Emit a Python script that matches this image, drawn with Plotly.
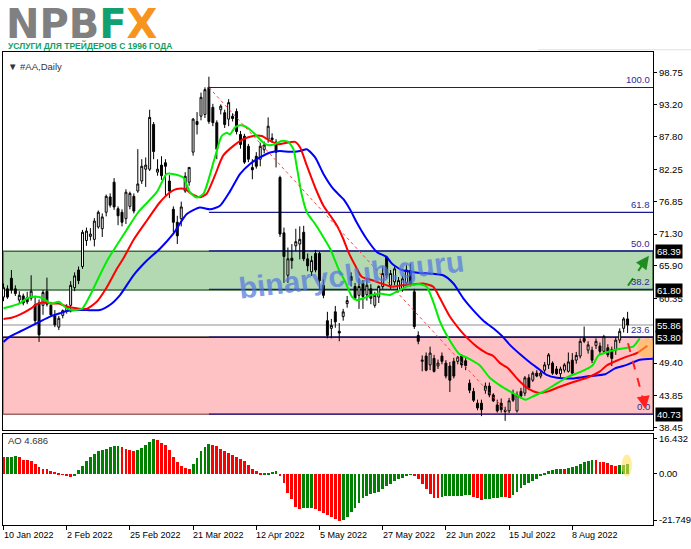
import plotly.graph_objects as go
import pandas as pd

W, H = 691, 549

# ---------------- data ----------------
holidays = ['2022-01-17', '2022-02-21', '2022-04-15', '2022-05-30', '2022-06-20', '2022-07-04']
dates = pd.bdate_range('2022-01-10', '2022-08-26', freq='C', holidays=holidays)

opens = [60.6, 62.0, 63.8, 62.0, 60.1, 60.8, 60.5, 60.4, 59.3, 59.6,
         59.2, 61.6, 59.2, 57.4, 55.5, 57.5, 58.3, 59.2, 62.2, 65.2,
         65.8, 70.2, 70.9, 70.4, 72.5, 72.2, 75.0, 77.6, 80.1, 75.6,
         75.0, 73.9, 76.0, 77.7, 78.6, 80.3, 82.3, 82.3, 89.9, 81.8,
         83.0, 83.4, 80.3, 75.5, 73.3, 73.9, 78.6, 80.1, 85.2, 90.4,
         91.3, 91.6, 96.2, 92.8, 90.2, 92.4, 91.9, 90.8, 91.3, 92.1,
         88.2, 87.9, 86.2, 82.6, 84.5, 84.0, 85.6, 87.4, 87.6, 86.9,
         80.9, 71.5, 64.3, 67.2, 69.3, 69.6, 71.6, 67.1, 64.9, 68.0,
         68.0, 62.6, 56.6, 55.3, 58.1, 54.8, 57.3, 59.5, 64.1, 62.4,
         60.9, 62.9, 61.0, 62.0, 59.2, 60.6, 62.4, 67.4, 62.6, 63.2,
         61.7, 62.0, 63.0, 65.1, 61.5, 54.1, 49.7, 50.6, 49.1, 50.2,
         48.9, 50.6, 49.4, 48.9, 49.7, 49.7, 50.6, 49.8, 46.0, 44.6,
         42.6, 42.6, 44.8, 45.5, 44.0, 42.3, 42.6, 41.4, 41.3, 44.3,
         41.3, 44.6, 44.3, 46.9, 46.5, 47.7, 47.2, 48.2, 49.1, 49.4,
         48.4, 47.6, 48.2, 48.0, 49.9, 49.9, 50.6, 53.6, 51.6, 51.6,
         52.4, 52.3, 51.4, 52.0, 51.7, 51.6, 53.3, 55.3, 56.9]
highs = [62.9, 62.6, 65.2, 62.6, 61.6, 61.2, 61.5, 64.3, 60.8, 60.2,
         61.8, 63.9, 59.8, 58.4, 57.4, 58.5, 59.4, 63.3, 64.8, 65.8,
         72.0, 72.4, 72.3, 74.0, 75.3, 74.8, 78.0, 78.2, 80.8, 76.0,
         75.5, 78.9, 78.5, 78.2, 85.7, 84.0, 84.3, 92.4, 90.3, 84.0,
         84.5, 84.0, 81.3, 76.0, 74.4, 76.8, 81.8, 82.6, 91.0, 92.0,
         95.3, 96.2, 98.0, 93.4, 90.6, 93.3, 92.4, 94.2, 91.8, 92.6,
         88.8, 88.3, 86.6, 84.0, 85.2, 86.8, 87.0, 91.1, 88.4, 87.4,
         81.2, 72.4, 69.0, 69.6, 72.2, 72.6, 72.7, 68.0, 67.6, 68.6,
         68.3, 63.6, 58.1, 56.9, 59.1, 56.2, 58.6, 60.8, 64.8, 63.0,
         63.8, 63.5, 63.8, 62.8, 61.5, 62.6, 65.8, 67.6, 65.2, 65.8,
         64.0, 64.2, 66.0, 66.3, 62.0, 54.8, 50.7, 51.2, 52.2, 50.8,
         50.0, 51.2, 49.9, 49.6, 50.3, 50.6, 50.9, 50.4, 46.6, 45.2,
         43.2, 43.2, 46.1, 46.1, 44.3, 43.2, 43.4, 42.0, 43.5, 44.9,
         44.6, 45.2, 47.2, 47.5, 48.0, 48.2, 48.2, 49.6, 51.1, 49.7,
         48.9, 48.8, 49.4, 51.2, 51.1, 51.3, 53.6, 55.6, 53.1, 52.2,
         53.6, 52.9, 54.2, 52.6, 52.2, 53.8, 55.3, 57.2, 58.1]
lows = [59.9, 60.3, 61.2, 60.8, 59.5, 59.2, 59.4, 60.0, 56.0, 53.0,
        57.6, 59.0, 57.3, 55.5, 55.0, 57.0, 57.8, 58.0, 61.6, 62.8,
        65.4, 69.3, 70.2, 69.2, 72.2, 70.8, 74.3, 75.8, 75.4, 72.8,
        72.6, 73.0, 75.5, 74.8, 78.3, 79.8, 79.3, 82.0, 84.0, 81.2,
        80.5, 77.7, 77.4, 71.6, 69.6, 72.6, 78.3, 79.5, 84.6, 88.2,
        90.6, 91.0, 90.0, 89.6, 84.0, 91.6, 89.3, 89.6, 90.4, 88.2,
        85.8, 83.2, 83.5, 80.6, 82.4, 82.8, 85.0, 86.8, 86.8, 82.6,
        70.8, 63.0, 63.0, 65.4, 68.4, 67.0, 66.7, 65.0, 64.2, 64.8,
        62.0, 60.4, 53.6, 53.6, 55.4, 53.1, 56.6, 58.8, 62.4, 60.2,
        58.6, 58.6, 60.0, 59.4, 58.8, 59.6, 62.0, 63.8, 62.0, 62.6,
        61.4, 61.5, 62.4, 62.4, 55.2, 52.6, 48.0, 48.0, 48.2, 47.8,
        48.4, 49.2, 46.8, 44.5, 46.8, 49.2, 48.6, 48.2, 44.3, 42.8,
        41.4, 40.4, 44.2, 43.6, 42.8, 41.0, 41.0, 39.6, 40.9, 42.8,
        41.0, 43.4, 43.8, 44.8, 46.2, 47.0, 46.8, 47.6, 48.4, 47.4,
        47.4, 47.0, 47.8, 47.8, 47.4, 49.3, 50.2, 52.8, 51.0, 49.4,
        51.8, 50.8, 51.0, 50.4, 48.9, 50.8, 52.8, 54.6, 54.5]
closes = [62.2, 60.6, 61.8, 61.2, 60.9, 59.6, 59.8, 61.6, 56.6, 54.2,
          61.4, 59.4, 57.6, 55.9, 57.0, 58.3, 59.0, 62.6, 64.2, 63.4,
          71.6, 71.8, 71.3, 73.5, 75.0, 74.2, 77.7, 76.2, 75.9, 74.4,
          73.3, 78.4, 78.2, 75.2, 79.8, 82.8, 83.0, 91.1, 85.3, 82.3,
          81.2, 82.8, 78.6, 73.3, 71.0, 75.9, 81.1, 82.6, 90.8, 89.9,
          94.5, 95.8, 90.4, 90.2, 85.7, 93.0, 89.9, 93.6, 90.9, 88.7,
          86.5, 83.5, 84.0, 82.2, 82.8, 86.2, 86.4, 89.6, 87.3, 85.2,
          71.3, 67.5, 67.1, 66.8, 70.0, 70.4, 67.1, 65.9, 66.8, 65.2,
          63.4, 60.9, 54.1, 55.8, 56.4, 54.5, 58.1, 60.0, 63.4, 60.4,
          62.4, 60.7, 62.6, 60.4, 60.9, 62.4, 64.6, 64.3, 64.6, 65.4,
          63.4, 63.7, 65.2, 62.9, 55.6, 53.1, 49.9, 48.2, 51.1, 48.0,
          49.4, 49.7, 47.2, 46.5, 47.2, 50.4, 49.1, 49.0, 44.8, 43.1,
          41.8, 41.5, 45.5, 44.0, 43.0, 41.3, 41.5, 41.2, 43.0, 43.1,
          44.0, 43.8, 46.9, 45.2, 47.7, 47.2, 47.7, 49.1, 50.8, 47.7,
          47.6, 48.4, 49.1, 49.6, 47.7, 50.7, 53.1, 53.1, 52.5, 49.9,
          53.1, 51.4, 53.9, 50.8, 50.2, 53.3, 54.8, 56.9, 55.86]

lips_x = [0, 4, 6, 8, 10, 12, 14, 16, 18, 20, 22, 24, 26.5, 30.8, 34.1, 38.8, 41.3, 42.8, 45.5, 47.2,
          48.9, 50.6, 53.3, 55.2, 56.5, 57.3, 58.6, 59.9, 61.1, 62.8, 64.1, 65.8, 67, 68.7, 70.4, 72.1,
          73.4, 74.2, 75.5, 76.8, 78.9, 80.5, 82.7, 84.8, 86.5, 88.2, 89.4, 91.1, 93.2, 95.3, 97.8, 99.5,
          102.5, 105.4, 107.1, 108.8, 110.5, 112.4, 115.3, 117.5, 120.6, 123, 125.3, 128.2, 130.1, 132.2,
          134.5, 136.5, 139.5, 143, 146.4, 149.1, 150.6, 152.7, 155.2, 157.8, 159.4, 161.1]
lips_y = [58.7, 59.5, 60.4, 60.7, 60.4, 59.5, 59.8, 58.7, 58.4, 58.7, 61.0, 63.8, 67.1, 71.6, 75.0, 78.4,
          81.5, 81.5, 80.9, 78.4, 77.5, 78.1, 83.8, 87.9, 88.5, 88.2, 89.4, 89.75, 89.6, 88.8, 87.95, 86.8,
          86.4, 86.55, 87.1, 86.95, 85.7, 82.9, 78.0, 75.0, 73.0, 71.3, 68.8, 65.4, 63.2, 60.7, 60.1, 60.4,
          60.95, 61.2, 60.95, 61.5, 62.5, 62.8, 62.4, 59.8, 56.45, 53.9, 51.0, 50.25, 49.0, 47.0, 45.8,
          44.6, 43.9, 43.2, 43.9, 44.5, 45.7, 47.1, 48.0, 49.0, 50.7, 51.25, 51.7, 52.0, 52.2, 53.6]
teeth_x = [0, 2, 4, 7, 8.4, 10, 12, 14, 16, 18.5, 21, 23.6, 26, 28.7, 30.3, 32.9, 36.3, 39.6, 42.2, 43.8,
           46, 47.6, 49.7, 51.4, 53.5, 55.6, 58.2, 60.7, 63.2, 65.4, 67.5, 69.6, 71.7, 73.8, 75.1, 76.8,
           78.9, 81, 82.7, 84.4, 86, 87.3, 89, 90.7, 93.2, 95.7, 98.3, 100.8, 103.3, 106.3, 108.8, 110.5,
           113, 115.6, 117.5, 119.8, 122.3, 124, 125.7, 127.6, 130.4, 132.8, 135.4, 137.9, 140.5, 144.3,
           148, 151, 152.7, 155.2, 158, 160.3, 163]
teeth_y = [56.9, 57.1, 57.6, 58.7, 59.4, 59.7, 59.5, 59.5, 59.0, 58.7, 58.6, 59.8, 62.1, 65.4, 67.1, 70.3,
           73.6, 76.7, 78.4, 78.95, 78.95, 78.1, 77.55, 78.1, 81.2, 84.6, 86.26, 87.4, 87.95, 87.95, 87.1,
           86.55, 86.8, 86.94, 86.0, 82.9, 79.2, 76.1, 74.45, 72.75, 70.5, 68.27, 66.0, 64.05, 63.5, 62.9,
           62.36, 62.6, 62.75, 62.9, 62.36, 60.4, 57.3, 55.0, 53.6, 52.2, 51.1, 50.6, 49.4, 48.6, 46.5,
           45.1, 44.35, 44.6, 45.3, 46.2, 47.0, 48.0, 49.0, 49.8, 50.55, 51.1, 52.35]
jaw_x = [0, 1.6, 4.2, 6.7, 9.2, 11.8, 14.3, 16, 18.5, 21, 24.4, 27, 29.5, 32.9, 36.3, 39.6, 43, 46.4, 49.7,
         52.3, 54.8, 57.3, 59.9, 62.4, 64.9, 67.5, 70, 72.5, 75.1, 76.8, 78.9, 81, 83.5, 86, 87.7, 89.4,
         91.9, 94.5, 97, 98.3, 100.8, 103.3, 105.4, 111.3, 113.9, 116.4, 118.9, 121.5, 124, 126.5, 128.2,
         130.8, 133.3, 135.5, 137.5, 140.1, 144.3, 148.5, 152.3, 154.8, 157.8, 161.1, 164.4]
jaw_y = [53.0, 53.9, 54.76, 55.6, 56.45, 57.3, 57.86, 58.25, 58.4, 58.4, 58.4, 59.3, 60.95, 64.3, 66.8,
         68.8, 71.36, 74.7, 75.8, 75.5, 76.1, 78.5, 81.5, 83.2, 84.3, 85.15, 85.4, 85.25, 85.4, 85.7, 84.3,
         81.5, 78.95, 77.25, 75.5, 73.3, 70.5, 68.27, 67.4, 66.3, 65.2, 64.9, 64.7, 64.3, 62.9, 60.4, 58.4,
         56.6, 55.3, 53.8, 52.5, 50.9, 49.5, 48.4, 47.4, 46.9, 46.8, 47.2, 47.5, 48.5, 49.1, 49.97, 50.15]

# Awesome Oscillator
ao = [8.0, 8.1, 8.3, 8.5, 8.0, 6.9, 6.6, 6.2, 4.9, 3.4,
      2.6, 2.3, 1.5, 1.2, 0.7, -0.1, -1.0, -1.05, -0.4, 1.8,
      3.8, 6.2, 8.2, 9.75, 10.8, 11.3, 11.9, 12.7, 13.2, 13.25,
      12.7, 12.1, 11.3, 10.8, 11.6, 12.4, 14.0, 15.2, 16.432, 16.0,
      14.6, 14.0, 11.6, 8.0, 5.7, 4.1, 3.0, 2.6, 4.9, 7.7,
      10.8, 12.7, 14.4, 14.0, 13.2, 12.1, 10.8, 10.1, 9.3, 8.2,
      7.3, 6.2, 4.6, 2.5, 1.5, 0.2, 0.3, 0.6, 1.3, 1.4,
      -0.6, -4.0, -8.7, -11.8, -15.4, -16.5, -16.0, -15.9, -15.8, -16.5,
      -17.2, -18.0, -19.1, -20.0, -21.0, -21.749, -21.5, -20.0, -17.7, -15.7,
      -13.3, -11.0, -10.2, -9.4, -8.7, -8.2, -7.1, -5.5, -4.4, -3.2,
      -2.4, -1.6, -0.9, -0.1, -0.9, -2.4, -4.8, -7.1, -9.4, -11.0,
      -11.1, -10.5, -10.45, -10.4, -10.35, -10.3, -10.2, -9.9, -9.8, -10.7,
      -11.0, -12.1, -11.8, -11.6, -11.3, -11.0, -10.7, -10.8, -11.0, -9.75,
      -8.2, -6.6, -5.2, -4.0, -3.2, -2.1, -0.9, 0.7, 1.5, 1.95,
      2.3, 2.7, 2.65, 2.8, 3.4, 3.8, 4.9, 5.7, 6.2, 6.6,
      6.5, 5.85, 5.7, 5.1, 4.6, 4.1, 4.3, 4.5, 4.686]

price_ticks = [98.75, 93.20, 87.80, 82.25, 76.85, 71.30, 65.90, 60.35, 49.40, 43.85, 38.45]
price_boxes = [68.39, 61.80, 55.86, 53.80, 40.73]
ao_ticks = [16.432, 0.0, -21.749]
fib_high, fib_low = 96.17, 40.73
fib_start_bar, fib_end_bar = 52, 128
fib_levels = [100.0, 61.8, 50.0, 38.2, 23.6, 0.0]
green_zone = (61.80, 68.39)
red_zone = (40.73, 53.80)
last_price = 55.86
tick_every = 16

# ---------------- geometry ----------------
X0, X1 = 3, 653
MAIN_T, MAIN_B = 52, 432
AO_T, AO_B = 436, 528
FONT = "Liberation Sans, Arial, sans-serif"
FS = 9.5


def px(x):
    return x / W


def py(y):
    return 1 - y / H


idx = list(range(len(dates)))
x_range = [(X0 - 3.5) / 3.95, (X1 - 3.5) / 3.95]
y_range = [38.11, 102.24]
ao_range = [-24.1, 18.95]

ao_colors = ['red'] + ['green' if ao[i] > ao[i - 1] else 'red' for i in range(1, len(ao))]

fig = go.Figure()
fig.add_trace(go.Candlestick(
    x=idx, open=opens, high=highs, low=lows, close=closes,
    increasing=dict(line=dict(color='black', width=1), fillcolor='white'),
    decreasing=dict(line=dict(color='black', width=1), fillcolor='black'),
    whiskerwidth=0, hoverinfo='skip', xaxis='x', yaxis='y'))
for xs, ys, col in [(jaw_x, jaw_y, '#0000ff'), (teeth_x, teeth_y, '#ff0000'), (lips_x, lips_y, '#00ee00')]:
    fig.add_trace(go.Scatter(x=xs, y=ys, mode='lines', line=dict(color=col, width=2, shape='spline', smoothing=0.6),
                             hoverinfo='skip', xaxis='x', yaxis='y'))
fig.add_trace(go.Bar(x=idx, y=ao, marker=dict(color=ao_colors, line=dict(width=0)), width=0.72,
                     hoverinfo='skip', xaxis='x2', yaxis='y2'))

shapes = []
annotations = []
# fibonacci levels (drawn first so the zone borders sit on top)
for lv in fib_levels:
    val = fib_low + (fib_high - fib_low) * lv / 100.0
    shapes.append(dict(type='line', xref='x', yref='y', x0=fib_start_bar, x1=x_range[1], y0=val, y1=val,
                       line=dict(color='#1a1a8c', width=1.2), layer='below'))
    annotations.append(dict(xref='paper', yref='y', x=px(652), y=val, xanchor='right', yanchor='bottom',
                            text=f"{lv:.1f}", showarrow=False, font=dict(family=FONT, size=FS, color='#2a2a9a')))
# zones
shapes.append(dict(type='rect', xref='paper', yref='y', x0=px(X0), x1=px(X1), y0=green_zone[0], y1=green_zone[1],
                   fillcolor='#b2d9b2', line=dict(color='#3f6f3f', width=1.5), layer='below'))
shapes.append(dict(type='rect', xref='paper', yref='y', x0=px(X0), x1=px(X1), y0=red_zone[0], y1=red_zone[1],
                   fillcolor='#ffc2c4', line=dict(color='#9a6a6a', width=1.5), layer='below'))
shapes.append(dict(type='line', xref='paper', yref='y', x0=px(X0), x1=px(X1), y0=last_price, y1=last_price,
                   line=dict(color='#c8c8c8', width=2), layer='below'))
shapes.append(dict(type='line', xref='paper', yref='y', x0=px(X0), x1=px(X1), y0=red_zone[1], y1=red_zone[1],
                   line=dict(color='#202020', width=1.5), layer='below'))
# fib trend (dotted)
shapes.append(dict(type='line', xref='x', yref='y', x0=fib_start_bar, y0=fib_high, x1=fib_end_bar, y1=fib_low,
                   line=dict(color='#ff4040', width=1, dash='dot')))
# highlight circles
shapes.append(dict(type='circle', xref='x', yref='y', x0=160.4, x1=165.4, y0=50.25, y1=53.63,
                   fillcolor='rgba(255,190,60,0.55)', line=dict(width=0)))
shapes.append(dict(type='circle', xref='x2', yref='y2', x0=156.5, x1=159.1, y0=-1.3, y1=9.1,
                   fillcolor='rgba(255,225,90,0.6)', line=dict(width=0)))
# dashed arrows
shapes.append(dict(type='line', xref='x', yref='y', x0=158.1, y0=62.55, x1=162.6, y1=66.9,
                   line=dict(color='#1e8c1e', width=2, dash='dash')))
shapes.append(dict(type='line', xref='x', yref='y', x0=158.1, y0=52.76, x1=162.2, y1=42.6,
                   line=dict(color='#ff2020', width=2, dash='dash')))
annotations.append(dict(xref='x', yref='y', axref='x', ayref='y', x=163.4, y=67.6, ax=162.3, ay=66.6,
                        text='', showarrow=True, arrowhead=2, arrowsize=1.3, arrowwidth=2, arrowcolor='#1e8c1e'))
annotations.append(dict(xref='x', yref='y', axref='x', ayref='y', x=162.5, y=41.6, ax=162.1, ay=43.2,
                        text='', showarrow=True, arrowhead=2, arrowsize=1.3, arrowwidth=2, arrowcolor='#ff2020'))

# boxed price labels
for v in price_boxes:
    annotations.append(dict(xref='paper', yref='y', x=px(655), y=v, xanchor='left', yanchor='middle',
                            text=f"{v:.2f}", showarrow=False, bgcolor='black', borderpad=1,
                            font=dict(family=FONT, size=FS, color='white')))
# date labels
for i in range(0, len(dates), tick_every):
    d = dates[i]
    annotations.append(dict(xref='x2', yref='paper', x=i, y=py(538), xanchor='left', yanchor='middle',
                            xshift=-2, text=f"{d.day} {d:%b %Y}", showarrow=False,
                            font=dict(family=FONT, size=9, color='black')))
# titles
annotations.append(dict(xref='paper', yref='paper', x=px(6), y=py(67), xanchor='left', yanchor='middle',
                        text='▼ #AA,Daily', showarrow=False, font=dict(family=FONT, size=FS, color='#333333')))
annotations.append(dict(xref='paper', yref='paper', x=px(6), y=py(443), xanchor='left', yanchor='middle',
                        text=f'AO {ao[-1]:.3f}', showarrow=False, font=dict(family=FONT, size=FS, color='#333333')))
# watermark
annotations.append(dict(xref='paper', yref='paper', x=px(352), y=py(276), xanchor='center', yanchor='middle',
                        text='<b>binaryclub.guru</b>', showarrow=False, textangle=-7,
                        font=dict(family='Liberation Sans, Arial, sans-serif', size=30, color='rgba(85,120,225,0.72)')))
# logo
annotations.append(dict(xref='paper', yref='paper', x=px(4), y=py(24), xanchor='left', yanchor='middle',
                        text="<b><span style='color:#808080'>NPB</span><span style='color:#12a070'>F</span>"
                             "<span style='color:#f7941d'>X</span></b>",
                        showarrow=False, font=dict(family='DejaVu Sans, sans-serif', size=40)))
annotations.append(dict(xref='paper', yref='paper', x=px(6), y=py(46), xanchor='left', yanchor='middle',
                        text='<b>УСЛУГИ ДЛЯ ТРЕЙДЕРОВ С 1996 ГОДА</b>', showarrow=False,
                        font=dict(family='Liberation Sans, sans-serif', size=8.5, color='#12a060')))
shapes.append(dict(type='line', xref='paper', yref='paper', x0=px(538), x1=px(691), y0=py(50), y1=py(50),
                   line=dict(color='#e0e0e0', width=1)))

axis_common = dict(showgrid=False, zeroline=False, showline=True, mirror=True, linecolor='black', linewidth=1)
fig.update_layout(
    width=W, height=H, margin=dict(l=0, r=0, t=0, b=0),
    paper_bgcolor='white', plot_bgcolor='white', showlegend=False, bargap=0,
    xaxis=dict(domain=[px(X0), px(X1)], range=x_range, anchor='y', showticklabels=False, ticks='',
               rangeslider=dict(visible=False), **axis_common),
    xaxis2=dict(domain=[px(X0), px(X1)], range=x_range, anchor='y2', matches='x', showticklabels=False,
                ticks='outside', ticklen=4, tickcolor='black',
                tickvals=list(range(0, len(dates), tick_every)), **axis_common),
    yaxis=dict(domain=[py(MAIN_B), py(MAIN_T)], range=y_range, side='right', anchor='x',
               tickvals=price_ticks, ticktext=[f"{v:.2f}" for v in price_ticks], ticks='outside', ticklen=3,
               tickcolor='black', tickfont=dict(family=FONT, size=FS, color='black'), **axis_common),
    yaxis2=dict(domain=[py(AO_B), py(AO_T)], range=ao_range, side='right', anchor='x2',
                tickvals=ao_ticks, ticktext=['16.432', '0.00', '-21.749'], ticks='outside', ticklen=3,
                tickcolor='black', tickfont=dict(family=FONT, size=FS, color='black'), **axis_common),
    shapes=shapes, annotations=annotations,
)
fig.write_html("out.html", config={'displayModeBar': False},
               post_script="document.body.style.margin='0';document.body.style.overflow='hidden';")
